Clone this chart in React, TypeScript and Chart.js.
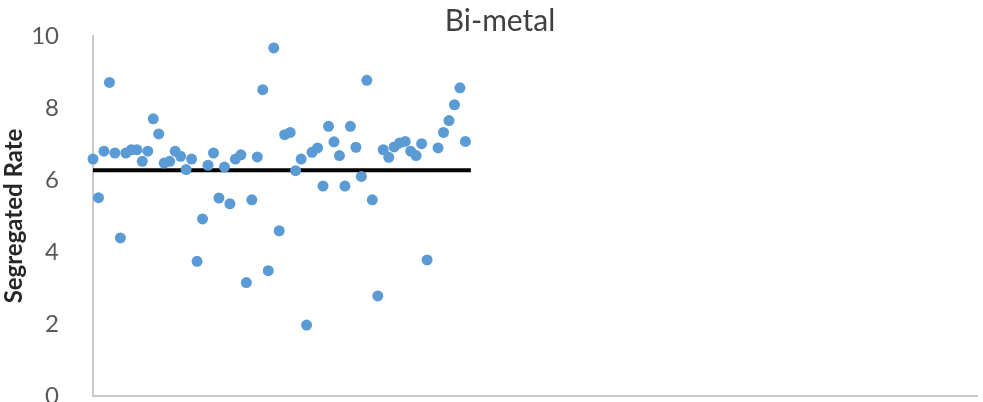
import React, { useEffect, useRef } from "react";
import { Chart, registerables } from "chart.js";

Chart.register(...registerables);

const TITLE = "Bi-metal";
const Y_LABEL = "Segregated Rate";

// sample number of each measurement (x)
const sampleNo = [
  0, 1, 2, 3, 4, 5, 6, 7, 8, 9,
  10, 11, 12, 13, 14, 15, 16, 17, 18, 19,
  20, 21, 22, 23, 24, 25, 26, 27, 28, 29,
  30, 31, 32, 33, 34, 35, 36, 37, 38, 39,
  40, 41, 42, 43, 44, 45, 46, 47, 48, 49,
  50, 51, 52, 53, 54, 55, 56, 57, 58, 59,
  60, 61, 63, 64, 65, 66, 67, 68,
];

// segregated rate of each measurement (y)
const segregatedRate = [
  6.58, 5.51, 6.8, 8.71, 6.75, 4.39, 6.75, 6.84, 6.84, 6.52,
  6.8, 7.7, 7.28, 6.47, 6.52, 6.8, 6.66, 6.29, 6.58, 3.74,
  4.92, 6.41, 6.75, 5.5, 6.36, 5.34, 6.58, 6.7, 3.15, 5.45,
  6.64, 8.51, 3.48, 9.67, 4.59, 7.26, 7.32, 6.26, 6.58, 1.97,
  6.77, 6.89, 5.83, 7.49, 7.06, 6.68, 5.83, 7.49, 6.91, 6.1,
  8.77, 5.45, 2.78, 6.84, 6.63, 6.92, 7.03, 7.07, 6.8, 6.68,
  7.01, 3.78, 6.89, 7.32, 7.65, 8.09, 8.56, 7.07,
];

// mean level line
const meanRate = 6.27;
const meanSpan = [0, 69];

const yMin = 0;
const yMax = 10;
const yStep = 2;
const xMin = 0;
const xMax = 161.5;

export default function App() {
  const ref = useRef<HTMLCanvasElement>(null);

  useEffect(() => {
    if (!ref.current) return;
    const chart = new Chart(ref.current, {
      type: "scatter",
      data: {
        datasets: [
          {
            label: "Segregated Rate",
            data: sampleNo.map((x, i) => ({ x, y: segregatedRate[i] })),
            backgroundColor: "#5B9BD5",
            borderColor: "#5B9BD5",
            borderWidth: 0,
            pointRadius: 5.5,
            order: 0,
            clip: false,
          } as any,
          {
            type: "line",
            label: "Mean",
            data: meanSpan.map((x) => ({ x, y: meanRate })),
            borderColor: "#000000",
            backgroundColor: "#000000",
            borderWidth: 4,
            pointRadius: 0,
            showLine: true,
            fill: false,
            order: 1,
          } as any,
        ],
      },
      options: {
        responsive: false,
        animation: false,
        layout: { padding: { left: 21, right: 4, top: 0, bottom: 0 } },
        plugins: {
          legend: { display: false },
          tooltip: { enabled: false },
          title: {
            display: true,
            text: TITLE,
            color: "#404040",
            font: { family: "Lato", size: 30, weight: "normal", lineHeight: 1 },
            padding: { top: 6, bottom: 0 },
          },
        },
        scales: {
          x: {
            type: "linear",
            min: xMin,
            max: xMax,
            grid: { display: false },
            border: { display: true, color: "#C9C9C9", width: 2 },
            ticks: { display: false },
            afterFit: (s: any) => {
              s.height = 6;
            },
          },
          y: {
            min: yMin,
            max: yMax,
            ticks: {
              stepSize: yStep,
              padding: 26,
              color: "#595959",
              font: { family: "Lato", size: 24 },
            },
            grid: { display: false },
            border: { display: true, color: "#C9C9C9", width: 2 },
            title: {
              display: true,
              text: Y_LABEL,
              color: "#262626",
              font: { family: "Lato", size: 24, weight: "bold" },
              padding: { top: -21, bottom: 0 },
            },
            afterFit: (s: any) => {
              s.width = 72;
              s.paddingTop = 0;
              s.paddingBottom = 0;
            },
          },
        },
      } as any,
    });
    return () => chart.destroy();
  }, []);

  return (
    <div style={{ position: "fixed", left: 0, top: 0, width: 983, height: 402, background: "#fff" }}>
      <canvas ref={ref} width={983} height={402} />
    </div>
  );
}
